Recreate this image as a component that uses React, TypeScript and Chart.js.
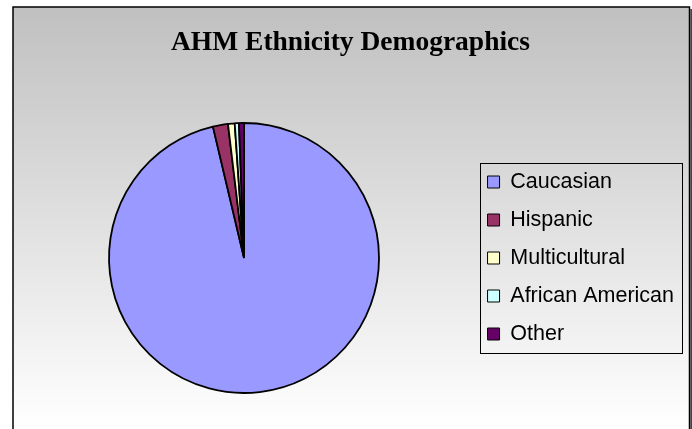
import { useEffect, useRef } from "react";
import { Chart, registerables } from "chart.js";

Chart.register(...registerables);

const categories = ["Caucasian", "Hispanic", "Multicultural", "African American", "Other"];
const shares = [96.3, 1.8, 0.8, 0.5, 0.6];
const sliceColors = ["#9999FF", "#993366", "#FFFFCC", "#CCFFFF", "#660066"];
const chartTitle = "AHM Ethnicity Demographics";

const framePlugin = {
  id: "frame",
  beforeDraw(chart: any) {
    const { ctx, width, height } = chart;
    ctx.save();
    ctx.fillStyle = "#ffffff";
    ctx.fillRect(0, 0, width, height);
    const fx = 13;
    const fy = 7;
    const fr = 689.5;
    const g = ctx.createLinearGradient(0, fy, 0, height);
    g.addColorStop(0, "#c0c0c0");
    g.addColorStop(1, "#ffffff");
    ctx.fillStyle = g;
    ctx.fillRect(fx, fy, fr - fx, height - fy + 2);
    ctx.strokeStyle = "#000000";
    ctx.lineWidth = 1.5;
    ctx.beginPath();
    ctx.moveTo(fx, height + 2);
    ctx.lineTo(fx, fy);
    ctx.lineTo(fr, fy);
    ctx.lineTo(fr, height + 2);
    ctx.stroke();
    ctx.fillStyle = "#444444";
    ctx.fillRect(fr + 0.75, fy + 2, 1.75, height);
    ctx.restore();
  },
  afterDraw(chart: any) {
    const legend = chart.legend;
    if (!legend || !legend.legendHitBoxes || !legend.legendHitBoxes.length) return;
    const boxes = legend.legendHitBoxes;
    const first = boxes[0];
    const last = boxes[boxes.length - 1];
    const x0 = Math.min(...boxes.map((b: any) => b.left)) - 8;
    const y0 = first.top - 8;
    const y1 = last.top + last.height + 8.5;
    const x1 = legend.right - 2;
    const { ctx } = chart;
    ctx.save();
    ctx.strokeStyle = "#000000";
    ctx.lineWidth = 1;
    ctx.strokeRect(Math.round(x0) + 0.5, Math.round(y0) + 0.5, Math.round(x1 - x0), Math.round(y1 - y0));
    ctx.restore();
  },
};

export default function App() {
  const canvasRef = useRef<HTMLCanvasElement | null>(null);

  useEffect(() => {
    if (!canvasRef.current) return;
    const baseGen = (Chart as any).overrides.pie.plugins.legend.labels.generateLabels;
    const chart = new Chart(canvasRef.current, {
      type: "pie",
      data: {
        labels: categories,
        datasets: [
          {
            data: shares,
            backgroundColor: sliceColors,
            borderColor: "#000000",
            borderWidth: 1.8,
          },
        ],
      },
      options: {
        responsive: false,
        animation: false,
        events: [],
        radius: 135,
        layout: { padding: { left: 17, right: 8, top: 7, bottom: 0 } },
        plugins: {
          tooltip: { enabled: false },
          title: {
            display: true,
            text: chartTitle,
            color: "#000000",
            font: { family: "'Liberation Serif', 'Times New Roman', serif", size: 27.5, weight: "bold", lineHeight: 1.2 },
            padding: { top: 19, bottom: 28 },
          },
          legend: {
            position: "right",
            fullSize: false,
            labels: {
              color: "#000000",
              font: { family: "'Liberation Sans', Arial, sans-serif", size: 21.5 },
              boxWidth: 12,
              boxHeight: 12,
              padding: 16.5,
              generateLabels: (c: any) =>
                baseGen(c).map((l: any) => ({ ...l, lineWidth: 1, strokeStyle: "#000000" })),
            },
          },
        },
      } as any,
      plugins: [framePlugin],
    });
    return () => chart.destroy();
  }, []);

  return (
    <div style={{ position: "absolute", left: 0, top: 0, width: 692, height: 429 }}>
      <canvas ref={canvasRef} width={692} height={429} style={{ width: 692, height: 429, display: "block" }} />
    </div>
  );
}
